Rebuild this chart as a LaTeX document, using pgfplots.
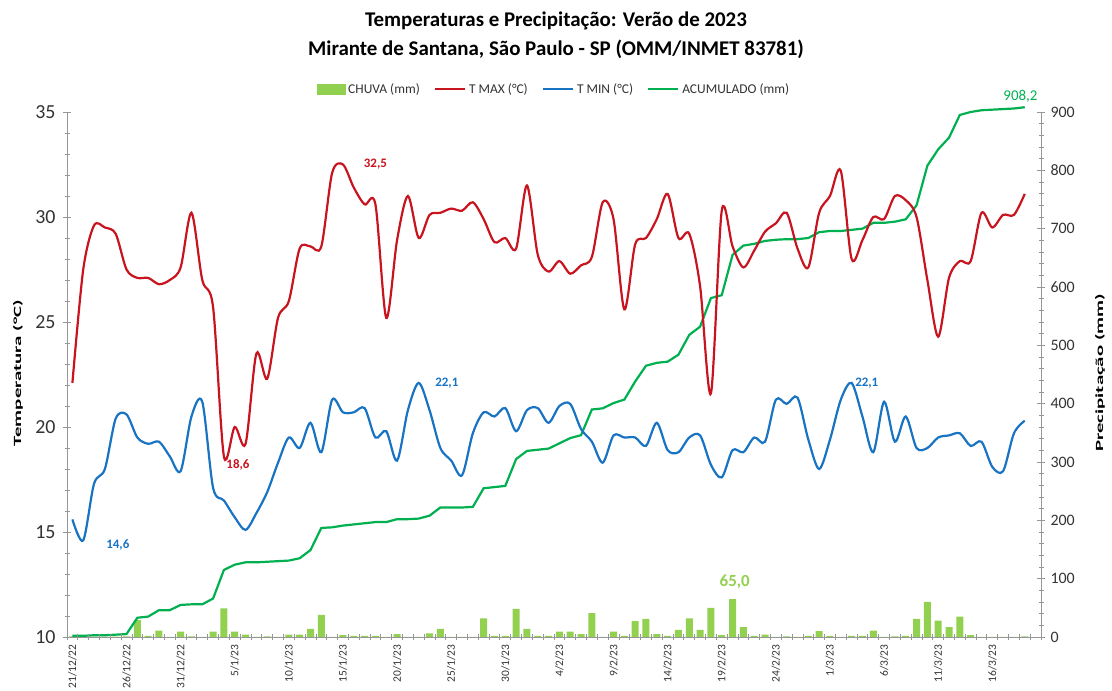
\documentclass[border=0pt]{standalone}
\usepackage{pgfplots}
\pgfplotsset{compat=1.18}
\usepackage{pgfplotstable}
\usepackage{fontspec}
\setmainfont{Carlito}

\definecolor{chuva}{RGB}{146,208,80}
\definecolor{tmax}{RGB}{200,20,30}
\definecolor{tmin}{RGB}{25,115,195}
\definecolor{acum}{RGB}{0,176,80}
\definecolor{axgray}{RGB}{150,150,150}

\pgfplotstableread{
i tmax tmin
0 22.1 15.6
1 27.5 14.6
2 29.6 17.3
3 29.5 18.0
4 29.2 20.4
5 27.5 20.6
6 27.1 19.5
7 27.1 19.2
8 26.8 19.3
9 27.0 18.6
10 27.6 17.9
11 30.2 20.5
12 27.0 21.2
13 25.7 17.1
14 18.6 16.5
15 20.0 15.7
16 19.2 15.1
17 23.5 15.9
18 22.3 16.9
19 25.2 18.3
20 26.0 19.5
21 28.5 19.0
22 28.6 20.2
23 28.6 18.8
24 32.1 21.3
25 32.5 20.7
26 31.4 20.7
27 30.6 20.9
28 30.6 19.5
29 25.2 19.8
30 28.9 18.4
31 31.0 20.8
32 29.0 22.1
33 30.1 20.8
34 30.2 19.0
35 30.4 18.4
36 30.3 17.7
37 30.7 19.7
38 29.9 20.7
39 28.8 20.5
40 29.0 20.9
41 28.5 19.8
42 31.5 20.8
43 28.2 20.9
44 27.4 20.2
45 27.9 21.0
46 27.3 21.1
47 27.7 19.9
48 28.1 19.3
49 30.7 18.3
50 29.9 19.6
51 25.6 19.5
52 28.7 19.5
53 29.0 19.1
54 29.9 20.2
55 31.1 18.9
56 29.0 18.8
57 29.2 19.5
58 26.7 19.6
59 21.6 18.2
60 30.3 17.6
61 28.6 18.9
62 27.6 18.8
63 28.4 19.5
64 29.3 19.3
65 29.7 21.3
66 30.2 21.1
67 28.5 21.4
68 27.6 19.4
69 30.2 18.0
70 31.0 19.4
71 32.2 21.3
72 28.0 22.1
73 28.9 20.5
74 30.0 18.8
75 29.9 21.2
76 31.0 19.3
77 30.8 20.5
78 30.0 19.0
79 27.0 19.0
80 24.3 19.5
81 27.1 19.6
82 27.9 19.7
83 27.9 19.1
84 30.2 19.3
85 29.5 18.1
86 30.1 17.9
87 30.1 19.7
88 31.1 20.3
}\temps

\pgfplotstableread{
i chuva acum
0 1 2
1 0.5 2
2 0.5 3
3 0.5 3
4 0.5 4
5 1 5
6 29 33
7 2 35
8 11 46
9 0 46
10 9 55
11 1 56
12 0 56
13 9 66
14 49 115
15 9 124
16 4 128
17 0 128
18 1 129
19 0 130
20 4 131
21 4 135
22 14 149
23 38 187
24 0 188
25 3 191
26 2 193
27 2 195
28 2 197
29 0 197
30 5 202
31 0 202
32 0 203
33 6 208
34 14 222
35 0 222
36 0 222
37 0 223
38 32 255
39 2 257
40 2 259
41 48 305
42 14 319
43 2 321
44 2 323
45 9 332
46 9 341
47 5 346
48 41 390
49 0 392
50 9 401
51 2 407
52 27 438
53 31 465
54 5 470
55 2 472
56 12 484
57 32 518
58 12 532
59 50 581
60 3 586
61 65 655
62 17 671
63 2 674
64 4 679
65 0 681
66 1 682
67 0 682
68 2 684
69 10 694
70 2 696
71 0 696
72 2 698
73 2 700
74 11 710
75 0 710
76 1 712
77 2 716
78 31 740
79 60 808
80 28 836
81 17 856
82 35 895
83 3 900
84 0 903
85 0 904
86 0 905
87 0 906
88 1 908.2
}\chuva

\begin{document}
\begin{tikzpicture}
\path[use as bounding box] (0,0) rectangle (1112bp,691bp);
\pgfplotsset{
  common/.style={
    at={(67bp,54bp)}, anchor=south west, scale only axis,
    width=974bp, height=525bp, xmin=-0.5, xmax=89.5, clip=false,
    axis line style={axgray, line width=0.8bp},
    tick style={axgray, line width=0.8bp},
    tick align=center,
    major tick length=8bp, minor tick length=5bp,
    /pgf/number format/assume math mode=true,
  }
}
% Precipitation axis (right)
\begin{axis}[common,
  axis x line=none, axis y line*=right,
  ymin=0, ymax=900, ytick={0,100,...,900}, minor y tick num=4,
  yticklabel style={font=\fontsize{16}{16}\selectfont, black!80, xshift=2bp},
]
\addplot[ybar, bar width=7bp, fill=chuva, draw=none] table[x=i, y=chuva] {\chuva};
\addplot[acum, line width=2.2bp] table[x=i, y=acum] {\chuva};
\node[text=chuva, font=\fontsize{17}{17}\selectfont\bfseries] at (axis cs:61.2,94) {65,0};
\node[text=acum, font=\fontsize{15}{15}\selectfont] at (axis cs:87.6,926) {908,2};
\end{axis}
% Temperature axis (left)
\begin{axis}[common,
  axis x line*=bottom, axis y line*=left,
  ymin=10, ymax=35, ytick={10,15,...,35}, minor y tick num=4,
  yticklabel style={font=\fontsize{20}{20}\selectfont, black!80, xshift=-4bp},
  xtick={0,5,...,85},
  xticklabels={21/12/22,26/12/22,31/12/22,5/1/23,10/1/23,15/1/23,20/1/23,25/1/23,30/1/23,4/2/23,9/2/23,14/2/23,19/2/23,24/2/23,1/3/23,6/3/23,11/3/23,16/3/23},
  minor xtick={-0.5,0.5,...,89.5},
  major x tick style={draw=none},
  xticklabel style={rotate=90, anchor=east, font=\fontsize{11.5}{11.5}\selectfont, black!80},
  legend image code/.code={\draw[line width=2.2bp] (0bp,0bp) -- (30bp,0bp);},
  legend style={at={(0.5,1.025)}, anchor=south, draw=none, fill=none,
    font=\fontsize{13.5}{13.5}\selectfont, text=black!80, legend columns=4,
    /tikz/every even column/.append style={column sep=12bp},
    /tikz/every odd column/.append style={column sep=1bp}},
]
\addlegendimage{legend image code/.code={\fill[chuva] (0bp,-5bp) rectangle (28bp,5bp);}}
\addlegendentry{CHUVA (mm)}
\addplot[tmax, line width=2.2bp, smooth, tension=0.5] table[x=i, y=tmax] {\temps};
\addlegendentry{T MAX (°C)}
\addplot[tmin, line width=2.2bp, smooth, tension=0.5] table[x=i, y=tmin] {\temps};
\addlegendentry{T MIN (°C)}
\addlegendimage{acum, line width=2.2bp}
\addlegendentry{ACUMULADO (mm)}
\node[text=tmax, font=\fontsize{13}{13}\selectfont\bfseries] at (axis cs:28,32.5) {32,5};
\node[text=tmax, font=\fontsize{13}{13}\selectfont\bfseries] at (axis cs:15.3,18.2) {18,6};
\node[text=tmin, font=\fontsize{13}{13}\selectfont\bfseries] at (axis cs:4.2,14.4) {14,6};
\node[text=tmin, font=\fontsize{13}{13}\selectfont\bfseries] at (axis cs:34.6,22.1) {22,1};
\node[text=tmin, font=\fontsize{13}{13}\selectfont\bfseries] at (axis cs:73.4,22.1) {22,1};
\end{axis}
\node[font=\fontsize{21}{21}\selectfont\bfseries] at (556bp,670bp) {Temperaturas e Precipitação: Verão de 2023};
\node[font=\fontsize{21}{21}\selectfont\bfseries] at (556bp,642bp) {Mirante de Santana, São Paulo - SP (OMM/INMET 83781)};
\node[rotate=90, xscale=1.9, font=\fontsize{11}{11}\selectfont\bfseries] at (18bp,318bp) {Temperatura (°C)};
\node[rotate=90, xscale=1.9, font=\fontsize{11}{11}\selectfont\bfseries] at (1100bp,318bp) {Precipitação (mm)};
\end{tikzpicture}
\end{document}
